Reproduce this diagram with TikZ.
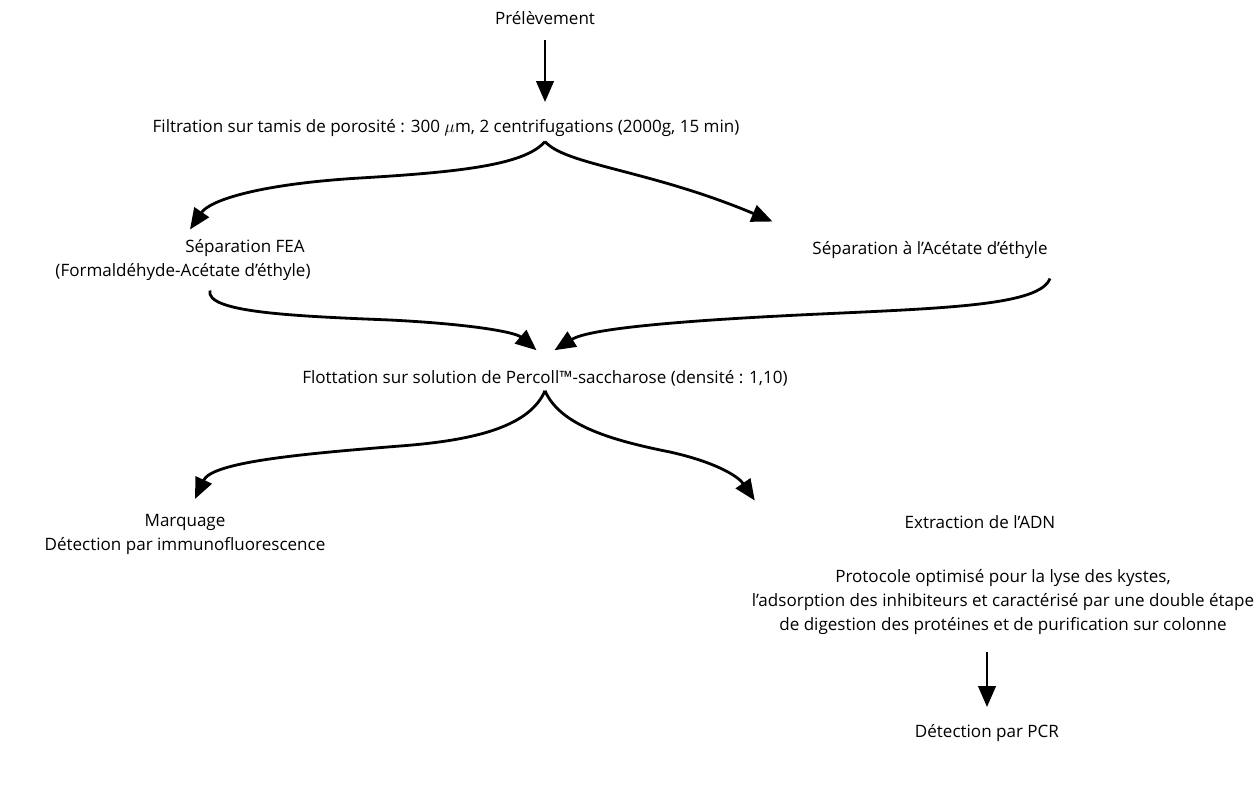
\documentclass[tikz,border=0pt]{standalone}
\usepackage{fontspec}
\setmainfont{Open Sans}
\usetikzlibrary{arrows.meta}

\begin{document}
\begin{tikzpicture}[x=0.02cm, y=-0.02cm, line width=1.6pt,
  etape/.style={font=\fontsize{9.7}{13.8}\selectfont, align=center, inner sep=2pt},
  fleche/.style={-{Triangle[length=4.2mm,width=3.5mm]}}]
  \useasboundingbox (0,0) rectangle (1257,789);
  % etapes
  \node[etape] (prel) at (545,18) {Prélèvement};
  \node[etape] (filt) at (446,128) {Filtration sur tamis de porosité : 300 $\mu$m, 2 centrifugations (2000g, 15 min)};
  \node[etape] (fea) at (245,248) {Séparation FEA};
  \node[etape] (feab) at (183,272) {(Formaldéhyde-Acétate d’éthyle)};
  \node[etape] (acet) at (930,250) {Séparation à l’Acétate d’éthyle};
  \node[etape] (flot) at (545,378) {Flottation sur solution de Percoll™-saccharose (densité : 1,10)};
  \node[etape] (marq) at (185,522) {Marquage};
  \node[etape] (immu) at (185,546) {Détection par immunofluorescence};
  \node[etape] (adn) at (980,522) {Extraction de l’ADN};
  \node[etape] (proto) at (1003,602) {Protocole optimisé pour la lyse des kystes,\\l’adsorption des inhibiteurs et caractérisé par une double étape\\de digestion des protéines et de purification sur colonne};
  \node[etape] (pcr) at (987,733) {Détection par PCR};
  % fleches droites
  \draw[fleche, shorten <=0.2cm, shorten >=0.25cm] (prel.south) -- (prel.south |- filt.north);
  \draw[fleche, shorten <=0.25cm, shorten >=0.25cm] (proto.south -| pcr.north) -- (pcr.north);
  % premiere fourche
  \draw[fleche] (prel.south |- filt.south) .. controls (525,165) and (460,172) .. (360,178)
    .. controls (260,184) and (210,200) .. ([xshift=-1.1cm,yshift=0.1cm]fea.north);
  \draw[fleche] (prel.south |- filt.south) .. controls (565,165) and (650,170) .. ([xshift=-0.7cm,yshift=0.3cm]acet.north west);
  % retour vers la flottation
  \draw[fleche] ([xshift=0.54cm,yshift=-0.1cm]feab.south) .. controls (205,312) and (290,316) .. (390,320)
    .. controls (470,324) and (515,332) .. ([xshift=-0.17cm,yshift=0.3cm]flot.north);
  \draw[fleche] ([xshift=2.4cm,yshift=-0.3cm]acet.south) .. controls (1040,305) and (950,308) .. (820,314)
    .. controls (690,320) and (590,328) .. ([xshift=0.19cm,yshift=0.3cm]flot.north);
  % deuxieme fourche
  \draw[fleche] (flot.south) .. controls (530,425) and (480,440) .. (400,446)
    .. controls (300,454) and (212,462) .. ([xshift=0.2cm,yshift=0.2cm]marq.north);
  \draw[fleche] (flot.south) .. controls (560,425) and (610,440) .. (670,452)
    .. controls (715,462) and (738,476) .. ([xshift=-2.9cm,yshift=0.2cm]adn.north west);
\end{tikzpicture}
\end{document}
